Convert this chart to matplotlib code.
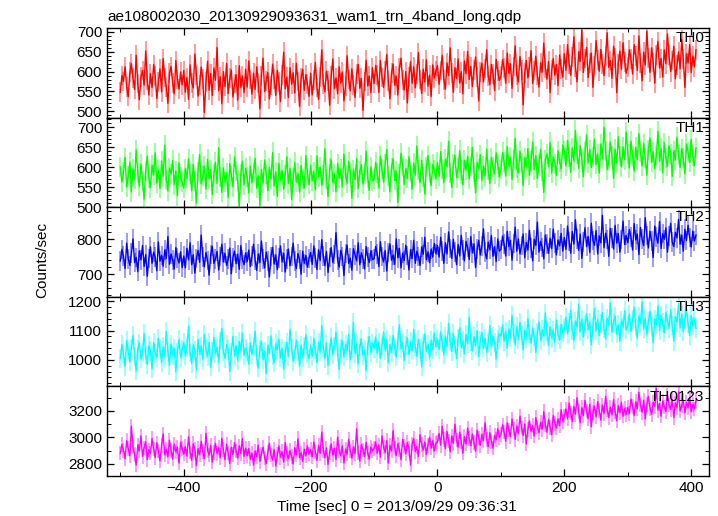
import numpy as np
import matplotlib
matplotlib.use("Agg")
from matplotlib import pyplot as plt
from matplotlib.ticker import MultipleLocator

plt.rcParams['font.family'] = ['Liberation Sans', 'DejaVu Sans']

# time bins: start, bin width (sec)
t_start = -500
t_bin = 2.5

th0 = [548, 590, 575, 612, 561, 537, 598, 620, 583, 555, 641, 570, 529, 586, 603, 566, 652, 578, 541, 595, 560, 618, 589, 532, 574, 607, 549, 633, 585, 562, 520, 596, 613, 571, 544, 628, 580, 556, 599, 567,
       603, 548, 585, 530, 617, 572, 559, 644, 590, 538, 566, 611, 581, 497, 574, 626, 553, 595, 540, 609, 578, 661, 552, 587, 519, 600, 563, 621, 545, 583, 604, 536, 570, 592, 528, 615, 560, 589, 547, 606,
       561, 627, 580, 543, 596, 555, 612, 571, 506, 588, 634, 550, 577, 598, 531, 565, 619, 582, 540, 603, 573, 524, 591, 649, 557, 586, 535, 610, 568, 597, 546, 621, 575, 512, 584, 606, 553, 592, 569, 538,
       596, 541, 578, 623, 560, 530, 587, 655, 569, 549, 601, 576, 515, 590, 632, 557, 584, 544, 612, 571, 599, 526, 563, 640, 580, 552, 607, 566, 535, 594, 618, 558, 583, 502, 575, 629, 564, 589, 547, 610,
       570, 615, 592, 548, 628, 585, 560, 603, 643, 576, 531, 597, 619, 566, 588, 541, 609, 634, 578, 554, 600, 521, 586, 625, 571, 612, 559, 595, 648, 580, 545, 606, 574, 630, 563, 591, 537, 617, 584, 602,
       615, 568, 603, 641, 579, 556, 622, 590, 660, 597, 548, 610, 583, 632, 571, 600, 544, 627, 595, 651, 580, 613, 562, 605, 637, 586, 526, 599, 621, 574, 608, 655, 589, 567, 618, 594, 552, 631, 601, 578,
       588, 630, 609, 571, 647, 596, 620, 558, 613, 665, 592, 574, 638, 605, 516, 597, 628, 584, 612, 653, 570, 603, 639, 590, 561, 622, 599, 672, 610, 581, 626, 547, 604, 633, 591, 618, 565, 642, 607, 586,
       645, 603, 668, 620, 591, 637, 688, 612, 574, 650, 626, 705, 598, 633, 661, 585, 622, 647, 560, 615, 678, 630, 601, 656, 619, 590, 640, 698, 611, 628, 583, 664, 635, 547, 620, 652, 606, 673, 625, 596,
       612, 655, 631, 594, 668, 640, 603, 690, 622, 577, 649, 616, 702, 635, 598, 660, 623, 571, 642, 676, 609, 633, 586, 655, 620, 695, 641, 600, 628, 664, 582, 617, 650, 607, 681, 631, 560, 645, 622, 668, 598, 639, 612, 655]

th1 = [601, 563, 587, 624, 550, 579, 612, 538, 596, 571, 643, 585, 552, 608, 566, 520, 590, 627, 574, 549, 605, 581, 636, 560, 593, 547, 615, 578, 655, 569, 541, 598, 583, 617, 556, 590, 529, 611, 575, 562,
       548, 596, 572, 621, 583, 541, 607, 566, 510, 589, 632, 558, 577, 603, 545, 620, 571, 594, 532, 583, 612, 560, 649, 575, 537, 598, 563, 586, 524, 609, 579, 551, 626, 590, 567, 503, 584, 615, 556, 597,
       575, 536, 603, 561, 587, 622, 548, 578, 505, 594, 560, 618, 583, 541, 599, 570, 637, 553, 588, 527, 610, 566, 592, 545, 580, 626, 559, 597, 519, 574, 612, 563, 585, 538, 604, 571, 548, 629, 582, 557,
       605, 566, 589, 543, 628, 575, 600, 555, 581, 646, 570, 527, 597, 618, 562, 584, 539, 609, 573, 596, 551, 633, 580, 560, 614, 587, 522, 593, 569, 621, 547, 590, 606, 558, 583, 640, 574, 542, 601, 565,
       570, 612, 586, 548, 627, 595, 563, 608, 644, 579, 538, 599, 621, 567, 590, 511, 583, 635, 604, 557, 596, 572, 626, 588, 545, 610, 580, 653, 592, 561, 617, 576, 533, 601, 629, 585, 554, 607, 593, 571,
       612, 577, 639, 595, 561, 620, 601, 665, 586, 549, 608, 630, 574, 598, 642, 583, 556, 617, 593, 627, 571, 604, 650, 589, 536, 612, 596, 631, 567, 603, 578, 645, 592, 559, 624, 600, 583, 636, 607, 575,
       596, 637, 612, 578, 651, 603, 625, 569, 617, 672, 598, 586, 640, 611, 554, 623, 600, 647, 580, 615, 663, 594, 629, 572, 608, 645, 590, 537, 619, 633, 601, 662, 585, 626, 609, 579, 641, 614, 596, 655,
       640, 603, 667, 625, 588, 648, 615, 692, 632, 597, 654, 620, 576, 638, 681, 611, 644, 599, 626, 670, 607, 633, 585, 658, 622, 700, 640, 594, 617, 663, 629, 572, 645, 610, 676, 628, 601, 651, 619, 688,
       633, 598, 665, 627, 590, 650, 618, 684, 637, 603, 659, 622, 580, 644, 673, 612, 639, 596, 629, 690, 615, 647, 586, 661, 624, 602, 653, 634, 577, 641, 618, 675, 630, 599, 646, 622, 583, 658, 637, 612, 669, 627, 604, 648]

th2 = [738, 771, 752, 716, 789, 744, 725, 760, 801, 733, 748, 707, 767, 741, 782, 722, 756, 694, 745, 778, 731, 763, 749, 710, 792, 737, 754, 723, 769, 745, 808, 728, 758, 740, 715, 776, 747, 732, 764, 719,
       752, 718, 774, 741, 790, 727, 756, 703, 745, 768, 734, 812, 749, 721, 762, 739, 697, 757, 780, 731, 744, 765, 712, 751, 786, 735, 760, 725, 743, 775, 701, 748, 766, 730, 757, 714, 782, 742, 727, 761,
       736, 769, 722, 752, 786, 740, 711, 758, 733, 795, 744, 718, 763, 738, 692, 750, 777, 729, 755, 713, 747, 781, 735, 760, 706, 743, 772, 724, 751, 789, 737, 716, 759, 742, 700, 766, 731, 754, 720, 745,
       762, 728, 781, 747, 713, 770, 739, 799, 752, 724, 765, 705, 748, 776, 734, 757, 819, 741, 720, 768, 750, 696, 759, 783, 731, 746, 711, 773, 755, 738, 790, 727, 761, 744, 715, 779, 749, 733, 767, 742,
       744, 779, 758, 722, 793, 751, 735, 768, 709, 762, 787, 740, 755, 728, 801, 747, 774, 718, 760, 739, 783, 753, 712, 770, 745, 797, 731, 766, 750, 725, 778, 757, 806, 741, 764, 733, 772, 749, 788, 759,
       782, 749, 806, 767, 731, 790, 758, 821, 773, 745, 800, 764, 727, 785, 752, 811, 769, 738, 794, 776, 742, 808, 761, 787, 719, 772, 797, 755, 780, 830, 763, 744, 792, 770, 811, 751, 779, 736, 801, 766,
       771, 809, 786, 752, 823, 779, 797, 740, 788, 835, 766, 801, 758, 782, 815, 747, 791, 769, 826, 775, 738, 800, 782, 849, 763, 794, 777, 744, 812, 786, 760, 803, 773, 829, 790, 755, 798, 781, 817, 766,
       805, 771, 838, 794, 760, 822, 786, 856, 801, 768, 815, 745, 792, 833, 779, 808, 762, 846, 797, 783, 825, 758, 810, 790, 869, 776, 817, 799, 751, 831, 804, 772, 840, 789, 816, 763, 800, 852, 785, 811,
       790, 828, 806, 769, 845, 798, 815, 756, 834, 801, 782, 862, 811, 775, 823, 795, 748, 838, 807, 789, 851, 774, 816, 800, 833, 763, 809, 846, 792, 779, 820, 804, 857, 786, 812, 766, 829, 797, 840, 805, 778, 823, 795, 812]

th3 = [1005, 1052, 1021, 978, 1066, 1030, 993, 1041, 1084, 1012, 962, 1035, 1058, 1003, 1026, 1090, 1017, 985, 1048, 1031, 970, 1059, 1022, 1007, 1074, 1038, 990, 1045, 1013, 1097, 1028, 981, 1054, 1016, 1040, 958, 1025, 1069, 1009, 1036,
       1060, 1014, 1043, 1115, 1025, 988, 1051, 1033, 966, 1070, 1019, 1047, 1002, 1088, 1036, 1011, 1059, 975, 1030, 1077, 1021, 1044, 991, 1065, 1108, 1028, 1005, 1052, 1037, 960, 1024, 1081, 1013, 1049, 998, 1063, 1031, 1092, 1016, 1040,
       1027, 985, 1058, 1019, 1046, 1098, 1010, 972, 1037, 1064, 1001, 1030, 953, 1049, 1023, 1082, 1015, 990, 1055, 1034, 1071, 1006, 1039, 968, 1028, 1060, 1012, 1105, 1041, 995, 1019, 1067, 1032, 978, 1050, 1008, 1045, 1086, 1021, 1003,
       1050, 1012, 1073, 1036, 990, 1061, 1027, 1118, 1043, 1004, 1058, 981, 1032, 1076, 1019, 1047, 1095, 1025, 968, 1040, 1066, 1010, 1052, 1031, 1087, 1000, 1038, 1128, 1022, 1055, 986, 1044, 1071, 1015, 1035, 962, 1049, 1080, 1026, 1057,
       1040, 1078, 1022, 1061, 1005, 1047, 1095, 1033, 1069, 990, 1052, 1026, 1083, 1044, 1010, 1066, 1120, 1037, 1058, 998, 1049, 1075, 1018, 1063, 1031, 1104, 1045, 1012, 1070, 1039, 976, 1056, 1088, 1028, 1053, 1007, 1067, 1036, 1092, 1046,
       1071, 1035, 1096, 1058, 1017, 1082, 1046, 1125, 1064, 1029, 1090, 1051, 1004, 1073, 1110, 1041, 1066, 1020, 1086, 1055, 1145, 1062, 1031, 1079, 1048, 1100, 1011, 1068, 1093, 1039, 1074, 1026, 1058, 1117, 1044, 1081, 1060, 1003, 1070, 1089,
       1082, 1120, 1063, 1098, 1041, 1105, 1076, 1153, 1090, 1052, 1114, 1069, 1128, 1084, 1035, 1100, 1071, 1142, 1088, 1057, 1109, 1078, 1025, 1093, 1131, 1066, 1104, 1081, 1160, 1095, 1049, 1113, 1074, 1101, 1059, 1137, 1087, 1068, 1122, 1092,
       1108, 1146, 1089, 1127, 1170, 1101, 1065, 1133, 1112, 1190, 1096, 1140, 1078, 1121, 1158, 1104, 1130, 1052, 1115, 1176, 1099, 1138, 1083, 1125, 1162, 1107, 1072, 1143, 1118, 1195, 1094, 1129, 1150, 1088, 1120, 1063, 1136, 1111, 1168, 1102,
       1119, 1157, 1098, 1138, 1180, 1112, 1075, 1149, 1125, 1198, 1106, 1143, 1088, 1132, 1166, 1115, 1059, 1140, 1121, 1185, 1101, 1153, 1127, 1092, 1161, 1135, 1108, 1172, 1118, 1064, 1147, 1129, 1193, 1110, 1156, 1097, 1139, 1175, 1123, 1083, 1151, 1116, 1142, 1108]

th0123 = [2880, 2945, 2902, 2838, 2975, 2915, 2860, 3085, 2925, 2870, 2790, 2942, 2898, 3010, 2855, 2920, 2965, 2832, 2905, 2880, 2990, 2912, 2846, 2958, 2895, 2820, 2937, 3025, 2868, 2910, 2852, 2978, 2901, 2835, 2948, 2889, 2926, 2805, 2962, 2915,
          2872, 2931, 2858, 3005, 2890, 2826, 2952, 2908, 2785, 2915, 2868, 2970, 2893, 2838, 3030, 2902, 2865, 2940, 2812, 2887, 2955, 2876, 2922, 2845, 2992, 2906, 2830, 2948, 2883, 2800, 2925, 2869, 2960, 2897, 2842, 2935, 2878, 2990, 2855, 2918,
          2860, 2915, 2835, 2880, 2790, 2897, 2852, 2940, 2818, 2875, 2926, 2843, 2802, 2886, 2955, 2865, 2828, 2908, 2782, 2870, 2935, 2848, 2892, 2812, 2960, 2876, 2838, 2900, 2856, 2798, 2921, 2867, 2990, 2846, 2882, 2815, 2910, 2858, 2935, 2872,
          2908, 2852, 2965, 2890, 2825, 2940, 2878, 3040, 2902, 2846, 2920, 2795, 2887, 2950, 2866, 2918, 2832, 3002, 2895, 2860, 2935, 2805, 2910, 2872, 2985, 2898, 2842, 2928, 2876, 3065, 2885, 2820, 2945, 2903, 2855, 2962, 2880, 2837, 2925, 2896,
          2915, 2965, 2880, 2942, 2850, 3010, 2925, 2886, 2975, 2805, 2938, 2898, 3050, 2920, 2862, 2950, 2908, 2830, 2985, 2935, 2876, 2960, 2915, 2790, 2948, 2990, 2892, 2932, 2855, 3020, 2945, 2905, 2965, 2870, 2940, 3000, 2918, 2975, 2895, 2955,
          2965, 3030, 2940, 3085, 2985, 2915, 3045, 2972, 2890, 3010, 2955, 3100, 2980, 2925, 3040, 2968, 2880, 3005, 2950, 3070, 2990, 2935, 3025, 2960, 2895, 3055, 2995, 2940, 3020, 2975, 3110, 2985, 2930, 3035, 2970, 2918, 3015, 2982, 3065, 3000,
          3020, 3095, 3040, 2970, 3110, 3055, 3005, 3140, 3065, 2985, 3085, 3030, 3160, 3070, 3015, 3100, 2950, 3060, 3125, 3045, 3090, 3010, 3150, 3080, 3035, 3115, 3060, 3195, 3095, 3040, 3135, 3075, 3020, 3165, 3105, 3070, 3140, 3090, 3210, 3120,
          3160, 3215, 3140, 3260, 3185, 3120, 3235, 3175, 3300, 3195, 3110, 3225, 3165, 3280, 3200, 3140, 3250, 3080, 3190, 3235, 3155, 3270, 3205, 3130, 3245, 3180, 3310, 3210, 3150, 3230, 3170, 3285, 3195, 3125, 3240, 3185, 3265, 3160, 3220, 3175,
          3225, 3180, 3290, 3235, 3165, 3270, 3215, 3340, 3245, 3190, 3280, 3140, 3250, 3310, 3220, 3175, 3265, 3235, 3370, 3205, 3255, 3160, 3275, 3230, 3195, 3320, 3245, 3210, 3285, 3150, 3260, 3225, 3345, 3200, 3240, 3280, 3185, 3265, 3225, 3300, 3195, 3250, 3215, 3280]

# 1-sigma errors per band
errs = [25, 25, 28, 32, 55]
names = ['TH0', 'TH1', 'TH2', 'TH3', 'TH0123']
series = [th0, th1, th2, th3, th0123]
colors = ['#ff0000', '#00ff00', '#0000ff', '#00ffff', '#ff00ff']
ylims = [(484, 710), (500, 724), (635, 892), (909, 1216), (2707, 3386)]
majors = [50, 50, 100, 100, 200]
minors = [10, 10, 20, 20, 100]

fig = plt.figure(figsize=(7.18, 5.16), dpi=100)
gs = fig.add_gridspec(5, 1, left=107/718, right=709/718, top=1-28/516, bottom=1-476/516, hspace=0)

for i in range(5):
    ax = fig.add_subplot(gs[i])
    y = np.array(series[i])
    t = t_start + t_bin * np.arange(len(y))
    ax.errorbar(t, y, yerr=errs[i], fmt='none', ecolor=colors[i], alpha=0.5, elinewidth=1.1)
    ax.plot(t, y, color=colors[i], lw=1.0)
    ax.set_xlim(-521, 428)
    ax.set_ylim(*ylims[i])
    ax.xaxis.set_major_locator(MultipleLocator(200))
    ax.xaxis.set_minor_locator(MultipleLocator(100))
    ax.yaxis.set_major_locator(MultipleLocator(majors[i]))
    ax.yaxis.set_minor_locator(MultipleLocator(minors[i]))
    ax.tick_params(which='both', direction='in', top=True, right=True, labelsize=11, colors='black')
    ax.tick_params(which='major', length=5, width=0.9)
    ax.tick_params(which='minor', length=3, width=0.7)
    for s in ax.spines.values():
        s.set_linewidth(1.0)
    if i < 4:
        ax.tick_params(labelbottom=False)
    ax.text(0.992, 0.965, names[i], transform=ax.transAxes, ha='right', va='top', fontsize=11)

fig.text(107/718, 1-21/516, 'ae108002030_20130929093631_wam1_trn_4band_long.qdp', fontsize=11, ha='left', va='baseline')
fig.text(42/718, 1-260/516, 'Counts/sec', rotation=90, fontsize=11, ha='center', va='center')
fig.text(397/718, 1-507/516, 'Time [sec] 0 = 2013/09/29 09:36:31', fontsize=11, ha='center', va='center')

plt.savefig('out.png', dpi=100)
